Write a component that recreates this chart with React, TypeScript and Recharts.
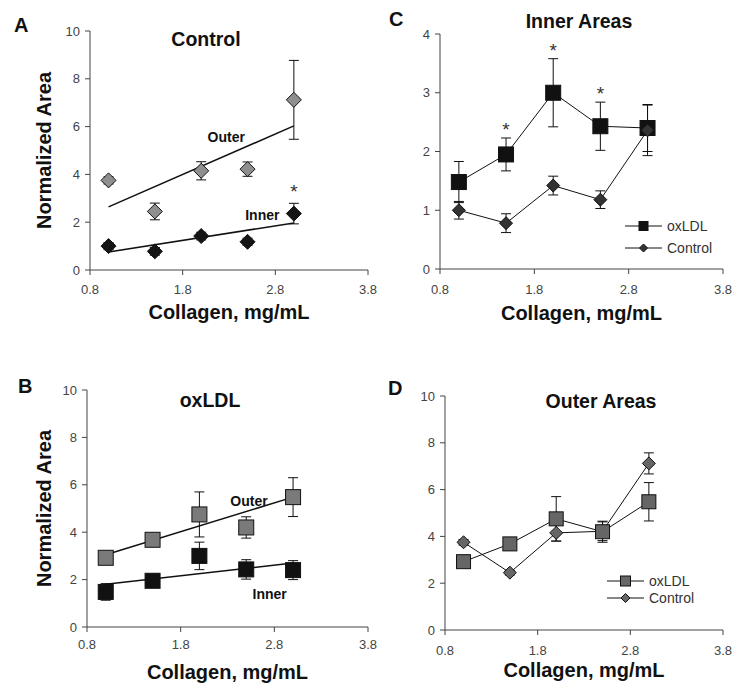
import React from 'react'
import { ComposedChart, Scatter, XAxis, YAxis, ErrorBar, ReferenceDot, Legend } from 'recharts'

// collagen concentration, mg/mL
const collagen = [1.0, 1.5, 2.0, 2.5, 3.0]
const xTicks = [0.8, 1.8, 2.8, 3.8]
const areaTicks = [0, 2, 4, 6, 8, 10]
const innerTicks = [0, 1, 2, 3, 4]

// normalized areas (mean) and error bars
const controlOuter = [3.75, 2.45, 4.15, 4.22, 7.12]
const controlOuterErrA = [0.15, 0.35, 0.38, 0.3, 1.65]
const controlOuterErrD = [0.12, 0.1, 0.35, 0.4, 0.45]
const controlInner = [1.0, 0.78, 1.42, 1.18, 2.36]
const controlInnerErr = [0.15, 0.16, 0.16, 0.15, 0.43]
const oxldlOuter = [2.92, 3.68, 4.75, 4.2, 5.48]
const oxldlOuterErr = [0.1, 0.25, 0.95, 0.45, 0.82]
const oxldlInner = [1.48, 1.95, 3.0, 2.43, 2.4]
const oxldlInnerErr = [0.35, 0.28, 0.58, 0.41, 0.4]

// linear fits, read at x = 1 and x = 3
const fitX = [1.0, 3.0]
const fitControlOuter = [2.64, 6.03]
const fitControlInner = [0.75, 1.97]
const fitOxldlOuter = [3.05, 5.48]
const fitOxldlInner = [1.8, 2.7]

// significance stars
const starsA = [false, false, false, false, true]
const starsC = [false, true, true, true, false]

const legendOrder = ['oxLDL', 'Control']

const font = 'Arial, "Liberation Sans", Helvetica, sans-serif'
const tickStyle = { fill: '#444', fontSize: 13, fontFamily: font }
const axisColor = '#444'

type Pt = { x: number; y: number; err: number }

const points = (ys: number[], errs?: number[]): Pt[] =>
  collagen.map((x, i) => ({ x, y: ys[i], err: errs ? errs[i] : 0 }))
const fitPoints = (ys: number[]): Pt[] => fitX.map((x, i) => ({ x, y: ys[i], err: 0 }))

const diamond = (fill: string, r: number) => (p: any) => (
  <polygon
    points={`${p.cx},${p.cy - r} ${p.cx + r},${p.cy} ${p.cx},${p.cy + r} ${p.cx - r},${p.cy}`}
    fill={fill}
    stroke="#111"
    strokeWidth={1}
  />
)
const square = (fill: string, h: number) => (p: any) => (
  <rect x={p.cx - h} y={p.cy - h} width={2 * h} height={2 * h} fill={fill} stroke="#111" strokeWidth={1} />
)
const noShape = () => <g />

function xAxis(tickMargin: number, height: number, labelOffset: number) {
  return (
    <XAxis
      type="number"
      dataKey="x"
      domain={[0.8, 3.8]}
      ticks={xTicks}
      interval={0}
      allowDataOverflow
      tickFormatter={(v: number) => v.toFixed(1)}
      tick={tickStyle}
      tickSize={5}
      tickMargin={tickMargin}
      height={height}
      stroke={axisColor}
      label={{
        value: 'Collagen, mg/mL',
        position: 'insideBottom',
        offset: labelOffset,
        fontSize: 20,
        fontWeight: 700,
        fill: '#111',
        fontFamily: font,
      }}
    />
  )
}

function yAxis(ticks: number[], width: number, withLabel: boolean) {
  return (
    <YAxis
      type="number"
      dataKey="y"
      domain={[ticks[0], ticks[ticks.length - 1]]}
      ticks={ticks}
      interval={0}
      allowDataOverflow
      width={width}
      tick={tickStyle}
      tickSize={5}
      tickMargin={5}
      stroke={axisColor}
      label={
        withLabel
          ? {
              value: 'Normalized Area',
              angle: -90,
              position: 'insideLeft',
              offset: 14,
              fontSize: 20,
              fontWeight: 700,
              fill: '#111',
              fontFamily: font,
              style: { textAnchor: 'middle' },
            }
          : undefined
      }
    />
  )
}

function fitLine(ys: number[]) {
  return (
    <Scatter
      data={fitPoints(ys)}
      line={{ stroke: '#111', strokeWidth: 1.5 }}
      shape={noShape}
      legendType="none"
      isAnimationActive={false}
    />
  )
}

function series(name: string, ys: number[], errs: number[], shape: any, line: boolean) {
  return (
    <Scatter
      name={name}
      data={points(ys, errs)}
      shape={shape}
      line={line ? { stroke: '#111', strokeWidth: 1 } : false}
      legendType={line ? 'line' : 'none'}
      isAnimationActive={false}
    >
      <ErrorBar dataKey="err" direction="y" width={5} stroke="#111" strokeWidth={1} />
    </Scatter>
  )
}

function stars(flags: boolean[], ys: number[], errs: number[], offset: number) {
  return collagen.map((x, i) =>
    flags[i] ? (
      <ReferenceDot
        key={'s' + i}
        x={x}
        y={ys[i] + errs[i]}
        r={0}
        fill="none"
        stroke="none"
        label={{ value: '*', position: 'top', offset, fontSize: 19, fill: '#333', fontFamily: font }}
      />
    ) : null
  )
}

function tag(text: string, x: number, y: number) {
  return (
    <ReferenceDot
      x={x}
      y={y}
      r={0}
      fill="none"
      stroke="none"
      label={{ value: text, position: 'center', fontSize: 14, fontWeight: 700, fill: '#111', fontFamily: font }}
    />
  )
}

function legendContent(rowHeight: number, marks: Record<string, (p: any) => React.ReactElement>) {
  return ({ payload }: any) => {
    const items = legendOrder.filter((n) => (payload || []).some((p: any) => p.value === n))
    return (
      <div style={{ fontFamily: font, fontSize: 14, color: '#333' }}>
        {items.map((n) => (
          <div key={n} style={{ display: 'flex', alignItems: 'center', height: rowHeight }}>
            <svg width={37} height={14}>
              <line x1={0} y1={7} x2={37} y2={7} stroke="#111" strokeWidth={1} />
              {marks[n]({ cx: 18.5, cy: 7 })}
            </svg>
            <span style={{ marginLeft: 5 }}>{n}</span>
          </div>
        ))}
      </div>
    )
  }
}

const titles = [
  { text: 'A', x: 14, y: 32, anchor: 'start', size: 20 },
  { text: 'Control', x: 206, y: 46, anchor: 'middle', size: 19.5 },
  { text: 'C', x: 389, y: 26, anchor: 'start', size: 20 },
  { text: 'Inner Areas', x: 579, y: 28, anchor: 'middle', size: 19.5 },
  { text: 'B', x: 18, y: 393, anchor: 'start', size: 20 },
  { text: 'oxLDL', x: 210, y: 407, anchor: 'middle', size: 19.5 },
  { text: 'D', x: 388, y: 395, anchor: 'start', size: 20 },
  { text: 'Outer Areas', x: 601, y: 408, anchor: 'middle', size: 19.5 },
]

export default function App() {
  return (
    <div style={{ position: 'absolute', left: 0, top: 0, width: 750, height: 697, background: '#fff' }}>
      {/* A: control gels */}
      <div style={{ position: 'absolute', left: 0, top: 0 }}>
        <ComposedChart width={385} height={340} margin={{ top: 31, right: 17, bottom: 15, left: 30 }}>
          {xAxis(10, 55, 6)}
          {yAxis(areaTicks, 60, true)}
          {fitLine(fitControlOuter)}
          {fitLine(fitControlInner)}
          {series('Outer', controlOuter, controlOuterErrA, diamond('#8f8f8f', 7.5), false)}
          {series('Inner', controlInner, controlInnerErr, diamond('#151515', 7.5), false)}
          {tag('Outer', 2.27, 5.57)}
          {tag('Inner', 2.66, 2.3)}
          {stars(starsA, controlInner, controlInnerErr, 5)}
        </ComposedChart>
      </div>

      {/* C: inner areas */}
      <div style={{ position: 'absolute', left: 375, top: 0 }}>
        <ComposedChart width={375} height={340} margin={{ top: 34, right: 27, bottom: 16, left: 25 }}>
          {xAxis(11, 55, 4)}
          {yAxis(innerTicks, 40, false)}
          {series('oxLDL', oxldlInner, oxldlInnerErr, square('#111', 7.5), true)}
          {series('Control', controlInner, controlInnerErr, diamond('#333', 6.5), true)}
          {stars(starsC, oxldlInner, oxldlInnerErr, 2)}
          <Legend
            layout="vertical"
            align="center"
            verticalAlign="middle"
            wrapperStyle={{ left: 250, top: 215, width: 120 }}
            content={legendContent(22, { oxLDL: square('#111', 4.5), Control: diamond('#333', 4) })}
          />
        </ComposedChart>
      </div>

      {/* B: oxLDL gels */}
      <div style={{ position: 'absolute', left: 0, top: 340 }}>
        <ComposedChart width={385} height={357} margin={{ top: 50, right: 17, bottom: 15, left: 30 }}>
          {xAxis(8, 55, 3)}
          {yAxis(areaTicks, 57, true)}
          {fitLine(fitOxldlOuter)}
          {fitLine(fitOxldlInner)}
          {series('Outer', oxldlOuter, oxldlOuterErr, square('#7a7a7a', 7.5), false)}
          {series('Inner', oxldlInner, oxldlInnerErr, square('#111', 7.5), false)}
          {tag('Outer', 2.53, 5.32)}
          {tag('Inner', 2.75, 1.39)}
        </ComposedChart>
      </div>

      {/* D: outer areas */}
      <div style={{ position: 'absolute', left: 375, top: 340 }}>
        <ComposedChart width={375} height={357} margin={{ top: 56, right: 27, bottom: 12, left: 25 }}>
          {xAxis(11, 55, 8)}
          {yAxis(areaTicks, 45, false)}
          {series('Control', controlOuter, controlOuterErrD, diamond('#666', 6.5), true)}
          {series('oxLDL', oxldlOuter, oxldlOuterErr, square('#666', 7), true)}
          <Legend
            layout="vertical"
            align="center"
            verticalAlign="middle"
            wrapperStyle={{ left: 232, top: 232, width: 120 }}
            content={legendContent(17, { oxLDL: square('#666', 5), Control: diamond('#666', 4.5) })}
          />
        </ComposedChart>
      </div>

      <svg
        width={750}
        height={697}
        style={{ position: 'absolute', left: 0, top: 0, pointerEvents: 'none' }}
      >
        {titles.map((t) => (
          <text
            key={t.text}
            x={t.x}
            y={t.y}
            textAnchor={t.anchor as any}
            fontFamily={font}
            fontWeight={700}
            fontSize={t.size}
            fill="#111"
          >
            {t.text}
          </text>
        ))}
      </svg>
    </div>
  )
}
